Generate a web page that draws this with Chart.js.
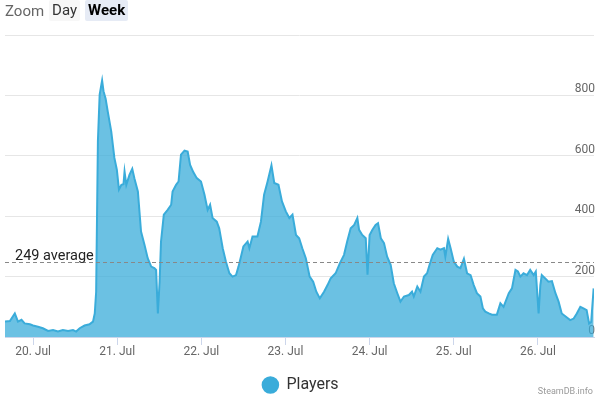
<!DOCTYPE html>
<html>
<head>
<meta charset="utf-8">
<script src="https://cdn.jsdelivr.net/npm/chart.js@4.4.0/dist/chart.umd.min.js"></script>
<style>
  html, body { margin: 0; padding: 0; background: #fff; }
  #wrap { position: relative; width: 600px; height: 400px; font-family: Roboto, sans-serif; }
  #zoomBar { position: absolute; left: 5px; top: 0; height: 21px; display: flex; align-items: center; font-size: 15px; color: #666; }
  #zoomBar .btn { height: 21px; line-height: 21px; padding: 0 3px; margin-left: 5px; color: #333; background: #f7f7f7; border-radius: 2px; }
  #zoomBar .btn.active { background: #e6ebf5; color: #000; font-weight: bold; }
  #credit { position: absolute; right: 7px; top: 386px; font-size: 9px; color: #999; }
</style>
</head>
<body>
<div id="wrap">
  <canvas id="playersChart" width="600" height="400"></canvas>
  <div id="zoomBar"><span>Zoom</span><span class="btn">Day</span><span class="btn active">Week</span></div>
  <div id="credit">SteamDB.info</div>
</div>
<script>
// hours counted from 20 Jul 00:00
const hours = [
  -8, -6.6, -5.2, -4.3, -3.3, -2.4, -0.9, 0, 1.4, 2.8, 4.3, 5.7, 7.1, 8.5, 10, 11.4, 12.3, 13.3, 14.7, 16.1,
  17.1, 17.6, 18, 18.5, 19, 19.5, 19.7, 20.1, 20.7, 21.3, 22.3, 23.2, 23.9, 24.5, 25.2, 25.8,
  26.1, 26.6, 27.5, 28.3, 28.9, 29.9, 30.8, 31.8, 32.7, 33.7, 34.6, 35.1, 35.6, 36.1, 36.5, 37.3, 38.4, 39.4, 39.8, 40.8,
  41.5, 42.2, 43.2, 44.1, 44.8, 45.7, 46.7, 47.9, 48.9, 49.8, 50.5, 51.2, 52.4, 53.1, 54.1, 55, 56, 56.9, 57.9, 58.6, 59.3, 60,
  61.2, 61.7, 62.6, 64, 65, 65.9, 66.9, 68, 68.8, 70, 71, 72.1, 73.1, 74, 75, 75.9, 76.8, 77.8, 78.9, 79.9,
  80.8, 81.8, 83, 84, 84.9, 86.3, 87.5, 88.7, 89.6, 90.6, 91.6, 92.5, 93, 93.9, 94.9, 95.4, 96, 96.8, 97.7, 98.4,
  99.2, 100.1, 101, 102, 102.9, 103.9, 104.8, 105.8, 107.2, 108.1, 108.6, 109.6, 110.5, 111.5, 112.4, 113.1, 114, 115.3, 116.2, 117.2,
  117.6, 118.4, 119.1, 120, 121, 121.9, 122.9, 123.8, 124.8, 125.7, 126.6, 127.6, 128.3,
  129, 130, 130.9, 132.3, 133.3, 134.2, 135.7, 136.6, 137.6, 138.3, 139, 139.9, 140.9, 141.8, 142.8, 143.4, 144.2, 144.7, 145.1, 146.1,
  147, 148, 149, 149.9, 150.8, 152, 153.2, 154.2, 155.1, 156.1, 157, 157.9, 158.6, 159.2, 159.9
];

const players = [
  51, 53, 78, 51, 57, 45, 42, 38, 34, 29, 20, 23, 18, 23, 20, 23, 18, 29, 38, 42,
  51, 78, 150, 648, 803, 836, 849, 814, 789, 747, 681, 593, 554, 488, 504, 506,
  548, 504, 537, 557, 526, 482, 349, 305, 261, 233, 228, 222, 78, 183, 316, 405, 421, 438, 482, 504,
  515, 604, 617, 614, 570, 546, 526, 515, 471, 421, 438, 394, 382, 360, 294, 250, 211, 200, 205, 233, 266, 300,
  316, 294, 333, 333, 382, 471, 515, 568, 510, 504, 449, 416, 394, 405, 338, 327, 294, 261, 200, 183,
  150, 128, 150, 172, 194, 211, 244, 272, 316, 360, 371, 394, 355, 338, 327, 206, 338, 355, 371, 377,
  327, 311, 266, 239, 178, 145, 117, 134, 139, 150, 134, 167, 150, 200, 211, 239, 272, 294, 289, 294,
  266, 325, 294, 250, 233, 228, 259, 211, 205, 172, 145, 134, 95,
  84, 78, 74, 74, 112, 100, 145, 161, 222, 217, 200, 211, 205, 222, 205, 217, 78, 172, 205, 194,
  183, 185, 145, 117, 78, 67, 56, 61, 78, 100, 95, 89, 45, 50, 161
];

const dayTicks = [0, 24, 48, 72, 96, 120, 144];
const dayLabels = ['20. Jul', '21. Jul', '22. Jul', '23. Jul', '24. Jul', '25. Jul', '26. Jul'];
const yTicks = [0, 200, 400, 600, 800, 1000];
const averageValue = 249;

Chart.defaults.font.family = 'Roboto, sans-serif';

const averageLine = {
  id: 'averageLine',
  afterDatasetsDraw(chart) {
    const { ctx, chartArea, scales } = chart;
    const y = Math.round(scales.y.getPixelForValue(averageValue)) + 0.5;
    ctx.save();
    ctx.strokeStyle = '#888';
    ctx.lineWidth = 1;
    ctx.setLineDash([4, 3]);
    ctx.beginPath();
    ctx.moveTo(chartArea.left, y);
    ctx.lineTo(chartArea.right, y);
    ctx.stroke();
    ctx.setLineDash([]);
    ctx.fillStyle = '#222';
    ctx.font = '14.5px Roboto, sans-serif';
    ctx.textBaseline = 'bottom';
    ctx.fillText(averageValue + ' average', chartArea.left + 10, y + 1);
    ctx.restore();
  }
};

new Chart(document.getElementById('playersChart'), {
  type: 'line',
  data: {
    datasets: [{
      label: 'Players',
      data: hours.map((h, i) => ({ x: h, y: players[i] })),
      borderColor: 'rgb(58, 172, 218)',
      backgroundColor: 'rgba(58, 172, 218, 0.75)',
      borderWidth: 2,
      fill: 'origin',
      pointRadius: 0,
      tension: 0
    }]
  },
  options: {
    responsive: false,
    animation: false,
    layout: { padding: { left: 5, right: 4, top: 35, bottom: -3 } },
    scales: {
      x: {
        type: 'linear',
        min: -8,
        max: 160,
        afterBuildTicks: scale => { scale.ticks = dayTicks.map(v => ({ value: v })); },
        afterFit: scale => { scale.height = 36; },
        grid: { drawOnChartArea: false, tickLength: 8, color: '#ccd6eb' },
        border: { color: '#ccd6eb' },
        ticks: {
          color: '#666',
          font: { size: 12 },
          maxRotation: 0,
          padding: 0,
          callback: value => dayLabels[dayTicks.indexOf(value)]
        }
      },
      y: {
        position: 'right',
        min: 0,
        max: 1000,
        afterBuildTicks: scale => { scale.ticks = yTicks.map(v => ({ value: v })); },
        grid: { color: '#e6e6e6', drawTicks: false },
        border: { display: false },
        ticks: {
          mirror: true,
          padding: 1,
          labelOffset: -6,
          color: '#666',
          font: { size: 12 },
          callback: value => (value === 1000 ? '' : value)
        }
      }
    },
    plugins: {
      legend: {
        position: 'bottom',
        labels: {
          color: '#333',
          font: { size: 16 },
          usePointStyle: true,
          pointStyle: 'circle',
          boxWidth: 16,
          boxHeight: 11,
          padding: 4,
          generateLabels: chart => Chart.defaults.plugins.legend.labels.generateLabels(chart).map(item => {
            item.fillStyle = 'rgb(58, 172, 218)';
            item.strokeStyle = 'rgb(58, 172, 218)';
            return item;
          })
        }
      },
      tooltip: { enabled: false }
    }
  },
  plugins: [averageLine]
});
</script>
</body>
</html>
